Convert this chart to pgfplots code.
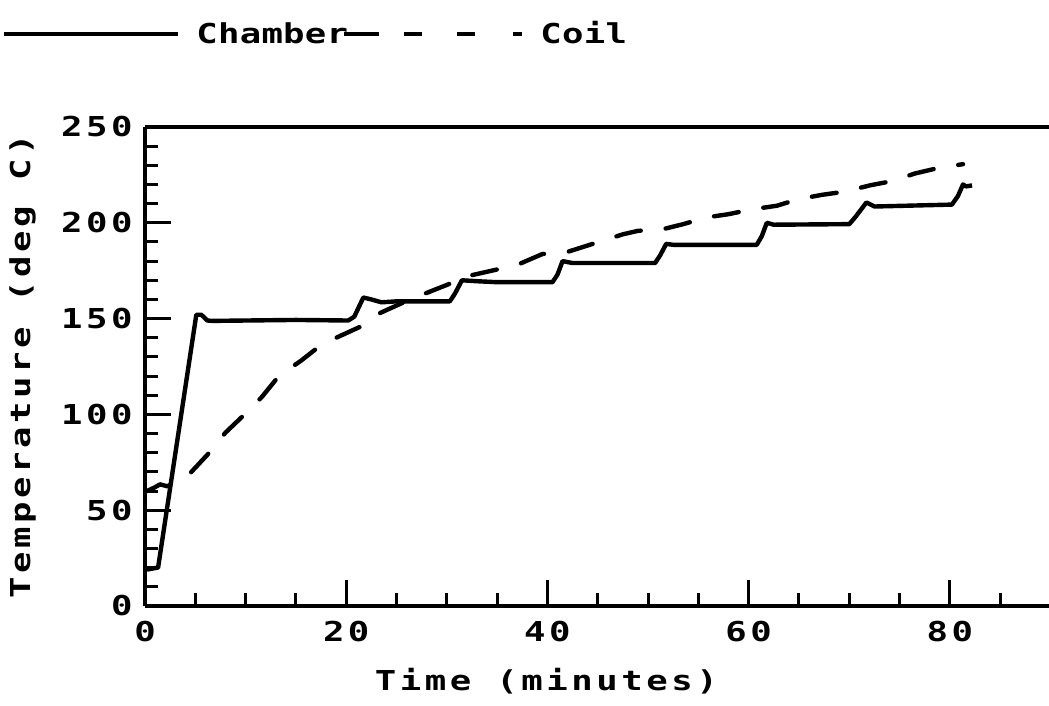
\documentclass[border=0pt]{standalone}
\usepackage{fontspec}
\newfontfamily\plotfont{DejaVu Sans Mono}[FakeStretch=1.3,LetterSpace=13]
\newfontfamily\legfont{DejaVu Sans Mono}[FakeStretch=1.3,LetterSpace=1]
\usepackage{pgfplots}
\pgfplotsset{compat=1.18}
\newcommand{\pf}{\plotfont\bfseries\fontsize{13.7}{16}\selectfont}
\newcommand{\lf}{\legfont\bfseries\fontsize{13.7}{16}\selectfont}
\pgfplotstableread{
x y
0.2 19
1.0 19.8
1.3 20
5.1 152
5.6 152
6.2 149
6.7 148.8
10 149
15 149.3
20.2 149
20.8 151
21.7 161
22.5 160
23.5 158.5
25 159
30.3 159
30.8 163
31.5 170
33 169.5
35 169
40.5 169
41.0 173
41.5 180
42.5 179
50.7 179
51.2 183
51.8 189
52.5 188.5
60.8 188.5
61.3 193
61.8 200
62.5 199
70 199.3
70.6 203
71.7 210.6
72.5 208.5
80.2 209.5
80.8 214
81.3 220
81.6 219
82.2 219.5
}\chamber
\pgfplotstableread{
x y
0.2 60
1.0 62
1.5 63.5
2.2 62.5
3.0 64.5
4.4 68.8
6.3 79.5
8.0 90.5
9.8 99.5
11.6 109
13.3 120
15.5 128
17.2 135
19.0 140
21.5 146
23.4 153
25.5 158
27.8 163
30.2 168
31.5 171.5
34.8 175.4
37.2 178.5
39.5 183.7
41.8 184.5
44.2 188.5
46.5 192.3
47.5 194
49.0 195.8
51.5 196.7
53.5 199.3
55.8 202.8
58.0 204.5
60.3 207
62.8 208.9
64.9 212.3
67.3 214.6
69.6 216.3
72.1 219.6
74.4 221.9
76.5 225.7
79.0 228.8
81.3 230.6
}\coil
\begin{document}
\begin{tikzpicture}
\useasboundingbox (-72.5pt,-50pt) rectangle (452pt,303pt);
\begin{axis}[
  scale only axis, width=452pt, height=239.5pt,
  xmin=0, xmax=89.85, ymin=0, ymax=250,
  axis x line*=box, axis y line*=left,
  xtick={0,20,...,80}, minor xtick={5,10,15,25,30,35,45,50,55,65,70,75,85},
  ytick={0,50,...,250}, minor ytick={10,20,30,40,60,70,80,90,110,120,130,140,160,170,180,190,210,220,230,240},
  xtick pos=bottom, ytick pos=left,
  tick align=inside, major tick length=13pt, minor tick length=6.5pt,
  every tick/.style={line width=1.5pt, black},
  axis line style={line width=2pt},
  /pgf/number format/assume math mode=true,
  tick label style={font=\pf, inner sep=0pt},
  yticklabel style={xshift=-6pt},
  xticklabel style={yshift=-7.5pt},
  xlabel={Time (minutes)},
  ylabel={Temperature (deg C)},
  every axis x label/.style={at={(axis description cs:0.4441,0)}, anchor=base, yshift=-42pt, font=\pf, inner sep=0pt},
  every axis y label/.style={at={(axis description cs:-0.1272,0.5)}, rotate=90, anchor=base, font=\pf, inner sep=0pt},
  clip=false,
]
\addplot[black, line width=2.2pt, line join=round] table {\chamber};
\addplot[black, line width=2.2pt, line join=round, line cap=round, dash pattern=on 12.5pt off 12.5pt] table {\coil};
\end{axis}
\draw[line width=2pt] (-70.25pt,286pt) -- (16.5pt,286pt);
\node[anchor=base west, inner sep=0pt, font=\lf] at (25.5pt,281pt) {Chamber};
\draw[line width=2pt, dash pattern=on 17.5pt off 12.5pt on 9pt off 17.5pt on 9pt off 19pt on 4.5pt off 10pt] (99.5pt,286pt) -- (188.5pt,286pt);
\node[anchor=base west, inner sep=0pt, font=\lf] at (197.5pt,281pt) {Coil};
\end{tikzpicture}
\end{document}
